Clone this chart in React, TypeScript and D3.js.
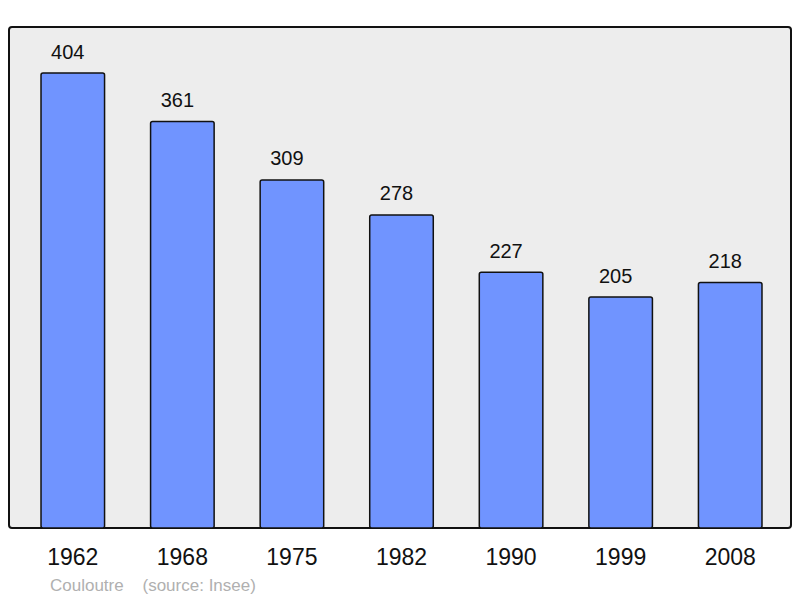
import React from "react";
import * as d3 from "d3";

const years = ["1962", "1968", "1975", "1982", "1990", "1999", "2008"];
const population = [404, 361, 309, 278, 227, 205, 218];
const townName = "Couloutre";
const sourceText = "(source: Insee)";

export default function App() {
  const W = 800, H = 598;
  const panel = { x: 9, y: 27, w: 782, h: 501 };
  const x = d3.scaleBand<string>().domain(years).range([18, 785]).paddingInner(0.42).paddingOuter(0.21);
  const y = d3.scaleLinear().domain([0, 404]).range([528, 73]);
  const bw = x.bandwidth();
  return (
    <svg width={W} height={H} style={{ position: "absolute", left: 0, top: 0 }} fontFamily="'Liberation Sans', Arial, sans-serif">
      <rect x={panel.x} y={panel.y} width={panel.w} height={panel.h} rx={3} fill="#ededed" stroke="#111" strokeWidth={2} />
      {years.map((yr, i) => {
        const v = population[i];
        const bx = x(yr)!;
        const top = y(v);
        return (
          <g key={yr}>
            <rect x={bx} y={top} width={bw} height={y(0) - top} rx={2} fill="#7094ff" stroke="#111" strokeWidth={1.5} />
            <text x={bx + bw / 2 - 5} y={top - 14.5} textAnchor="middle" fontSize={20} fill="#111">{v}</text>
            <text x={bx + bw / 2} y={565} textAnchor="middle" fontSize={23} fill="#111">{yr}</text>
          </g>
        );
      })}
      <text x={50} y={590.5} fontSize={17} fill="#b0b0b0">{townName}</text>
      <text x={142.5} y={590.5} fontSize={17} fill="#b0b0b0">{sourceText}</text>
    </svg>
  );
}
